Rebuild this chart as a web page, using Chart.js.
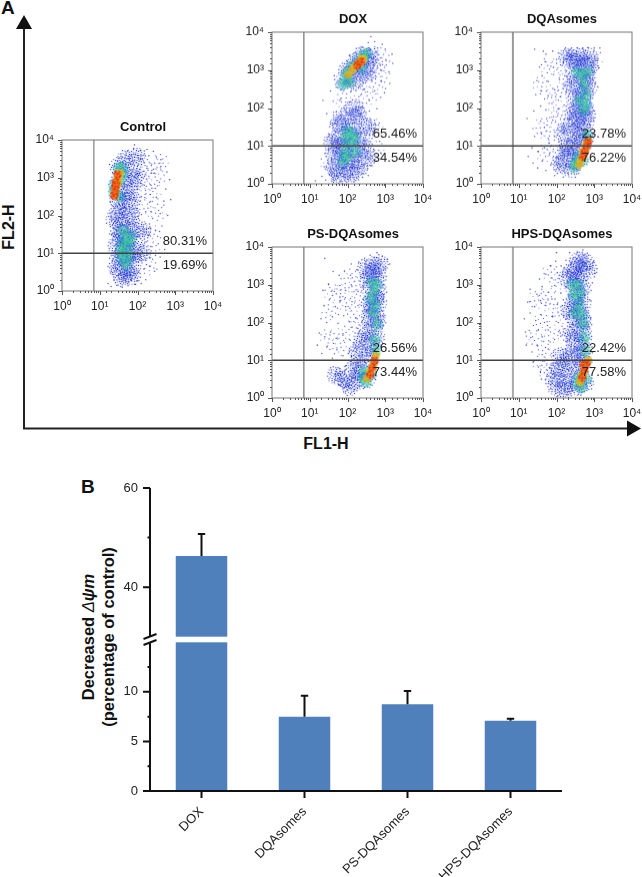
<!DOCTYPE html>
<html><head><meta charset="utf-8">
<style>
html,body{margin:0;padding:0;background:#fff;width:642px;height:877px;overflow:hidden;font-family:"Liberation Sans",Arial,sans-serif;color:#111}
canvas{position:absolute;display:block}
.t{position:absolute;white-space:nowrap;font-weight:bold;line-height:1}
svg{position:absolute;left:0;top:0}
</style>
<script src="https://cdn.jsdelivr.net/npm/chart.js@4"></script>
</head><body>
<svg width="642" height="877">
<path d="M24 429V28" stroke="#222" stroke-width="2" fill="none"/>
<path d="M24 15L32 29H16Z" fill="#111"/>
<path d="M23 428.5H628" stroke="#222" stroke-width="2" fill="none"/>
<path d="M641 428.5L627 420.5V436.5Z" fill="#111"/>
</svg>
<div class="t" style="left:1px;top:-2px;font-size:19px">A</div>
<div class="t" style="left:81px;top:477px;font-size:19px">B</div>
<div class="t" style="left:9px;top:227px;font-size:16px;transform:translate(-50%,-50%) rotate(-90deg)">FL2-H</div>
<div class="t" style="left:326px;top:444px;font-size:16px;transform:translate(-50%,-50%)">FL1-H</div>
<div class="t" style="left:88px;top:637px;font-size:16.5px;transform:translate(-50%,-50%) rotate(-90deg)">Decreased <span style="font-weight:normal;font-style:italic">Δ</span><i>ψm</i></div>
<div class="t" style="left:108px;top:637px;font-size:16.5px;transform:translate(-50%,-50%) rotate(-90deg)">(percentage of control)</div>
<script>
// ---- Flow cytometry panels (positions read as decades, log10 of FL1-H, FL2-H) ----
const decadeLabels=['10⁰','10¹','10²','10³','10⁴'];
const gateFL1=7, gateFL2=10;

const controlHaze=[[1.5,3.3],[1.55,3],[1.5,2.7],[1.5,2.4],[1.5,2.1],[1.55,1.8],[1.6,1.5],[1.65,1.2],[1.65,.9],[1.65,.6],[1.6,.35],[1.85,3.2],[1.85,2.8],[1.85,2.4],[1.85,2],[1.9,1.6],[1.95,1.2],[1.9,.8],[1.85,.4],[2.15,1.6],[2.1,1],[1.5,1.5],[1.5,.9],[1.7,3.5],[2,3.55],[1.7,2.6],[1.7,2.2],[1.75,1.7],[1.75,1.35],[1.8,.95],[1.75,.5],[1.45,.6],[2,3],[1.45,1.2],[1.4,1.9]];
const controlFringe=[[2.2,3.2],[2.4,3.3],[2.4,2.6],[2.3,.65],[2.2,2.7],[2.2,2.2],[2.5,3],[2.55,2.1],[2.4,1.5],[2.35,1.1],[2.6,3.4]];
const controlDots=[[1.22,.2],[1.3,.12],[1.38,.28],[1.45,.15],[1.52,.33],[1.6,.1],[1.68,.24],[1.75,.14],[1.82,.3],[1.92,.18],[2,.27],[2.1,.2],[2.22,.3],[1.31,.52],[1.42,.6],[1.55,.48],[1.72,.55],[1.88,.62],[2.03,.5],[2.17,.58],[2.32,.66],[2.45,.52],[1.36,.85],[1.48,.92],[1.95,.88],[2.1,.8],[2.25,.95],[2.4,.84],[2.6,.9],[1.38,1.2],[1.9,1.25],[2.05,1.15],[2.2,1.3],[2.35,1.18],[2.55,1.25],[2.72,1.1],[1.32,1.5],[1.45,1.62],[2,1.55],[2.15,1.7],[2.3,1.48],[2.48,1.6],[2.65,1.72],[1.3,1.95],[1.42,2.05],[1.62,1.95],[1.78,2.1],[2.02,1.98],[2.22,2.1],[2.4,1.92],[2.6,2.05],[2.8,2],[1.28,2.35],[1.6,2.3],[1.75,2.45],[1.95,2.38],[2.1,2.5],[2.32,2.35],[2.5,2.48],[2.7,2.38],[2.88,2.42],[1.66,2.75],[1.82,2.85],[2,2.7],[2.18,2.8],[2.38,2.72],[2.58,2.88],[2.75,2.7],[2.85,2.95],[1.7,3.15],[1.88,3.22],[2.05,3.1],[2.25,3.25],[2.45,3.12],[2.62,3.3],[2.78,3.15],[1.6,3.55],[1.78,3.5],[1.95,3.62],[2.12,3.5],[2.3,3.58],[2.5,3.55],[2.62,3.48],[1.75,3.72],[1.9,3.78],[2.08,3.72],[2.25,3.75],[2.42,3.7],[1.92,3.87],[1.4,2.2],[1.55,2.15],[1.7,1.75],[1.82,1.6],[1.4,1.05],[1.5,.72],[1.8,.75],[1.72,1.05],[1.85,1.1],[1.62,2.55],[1.7,2.95],[1.55,3.4],[1.7,3.35]];
const controlGreen=[[1.5,3.25],[1.58,3.27],[1.6,3.1],[1.55,2.95],[1.38,2.82],[1.37,2.6],[1.52,2.5],[1.62,1.6],[1.68,1.4],[1.6,1.25],[1.72,1.15],[1.65,1],[1.75,.9],[1.6,.85],[1.7,.7],[1.82,1.45],[1.55,1.05],[1.78,1.28]];
const controlWarm=[[1.53,3.12],[1.5,3.02],[1.46,2.95],[1.48,2.84],[1.43,2.72]];
const controlCore=[[1.47,3.08],[1.43,2.88],[1.41,2.78],[1.4,2.62],[1.39,2.52]];

const doxHaze=[[1.9,2.7],[2,3],[2.2,3.2],[2.4,3.4],[2.6,3.35],[2.5,2.9],[2.2,2.7],[1.75,1.6],[2,1.8],[2.3,1.8],[1.75,1.2],[2.05,1.25],[2.35,1.25],[1.65,.8],[1.95,.8],[2.25,.8],[1.65,.4],[1.95,.4],[2.3,.4],[2.55,1.5],[2.3,3.05],[2.1,2.9],[2.55,3.1],[1.6,1.1],[1.85,1.55],[2.15,1.5],[2.1,1.05],[1.8,.95],[1.8,.6],[2.1,.55],[2.1,.25],[1.75,.2],[2.45,.95],[2.5,.65],[2.2,2]];
const doxFringe=[[2.75,3.4],[2.9,3.3],[2.9,2.95],[2.75,3.05],[1.95,2.3],[1.85,1.95],[2.55,2.3],[2.4,2.6],[2.8,2.6],[2.7,1.5],[2.75,.9],[1.5,.6]];
const doxDots=[[1.15,.08],[1.32,.2],[1.42,.1],[1.55,.3],[1.62,.12],[1.72,.2],[1.82,.08],[1.92,.18],[2.02,.12],[2.12,.25],[2.25,.15],[2.4,.28],[2.55,.22],[1.38,.45],[1.48,.55],[1.58,.65],[1.75,.55],[1.88,.42],[2.15,.6],[2.42,.5],[2.62,.48],[2.78,.6],[1.5,.9],[1.6,1.05],[2.12,.9],[2.45,.92],[2.68,.85],[2.88,.82],[1.5,1.25],[1.68,1.35],[2.45,1.15],[2.65,1.2],[2.85,1.12],[1.6,1.55],[1.85,1.45],[2.2,1.6],[2.42,1.45],[2.6,1.62],[2.82,1.55],[1.45,1.85],[1.7,1.9],[1.9,2],[2.15,1.95],[2.38,2.02],[2.58,1.92],[2.78,1.98],[1.35,2.2],[1.62,2.18],[1.82,2.25],[2.05,2.15],[2.3,2.3],[2.58,2.2],[2.88,2.28],[1.55,2.45],[1.7,2.55],[2.1,2.45],[2.45,2.5],[2.72,2.45],[2.98,2.4],[1.65,2.85],[2.35,2.72],[2.65,2.7],[2.9,2.7],[3.12,2.65],[2.6,2.95],[2.88,3],[3.1,2.95],[3.2,3.18],[2.05,3.38],[2.2,3.45],[2.68,3.2],[3.02,3.25],[3.18,3.42],[2.4,3.6],[2.6,3.55],[2.8,3.58],[3,3.55],[2.55,3.72],[2.72,3.75],[2.92,3.68],[2.62,3.88],[1.8,2.2],[1.7,.95],[1.85,1.1],[2.2,1.05],[2.3,.45],[1.8,.28],[2,.55],[2.35,1.85],[2.1,1.7]];
const doxGreen=[[1.88,2.62],[1.95,2.78],[2,2.95],[2.12,3.08],[2.28,3.22],[2.42,3.38],[2.5,3.42],[2.36,3.05],[2.05,2.7],[2,1.4],[2.12,1.32],[2.2,1.18],[2.05,1.05],[1.92,.85],[1.88,.6],[2,.72],[2.22,.85],[1.95,1.22]];
const doxWarm=[[2.02,2.88],[2.12,3],[2.2,3.1],[2.3,3.18],[2.42,3.28],[2.38,3.3]];
const doxCore=[[2.26,3.12],[2.35,3.22]];

const dqaHaze=[[2.6,3.35],[2.85,3.35],[2.4,3.3],[2.7,3.1],[2.9,3.15],[2.5,2.9],[2.75,2.75],[2.4,2.6],[2.75,2.35],[2.5,2.2],[2.75,2],[2.55,1.75],[2.75,1.6],[2.35,1.5],[2.6,1.25],[2.35,.95],[2.55,.8],[2.2,.65],[2.4,.4],[2.55,3.2],[2.8,2.9],[2.6,2.45],[2.85,2.55],[2.8,1.8],[2.6,2],[2.45,1.9],[2.65,1.5],[2.5,1.1],[2.75,1.2],[2.45,.6],[2.25,.95],[2.1,.5],[2.2,1.35],[2.3,3.35]];
const dqaFringe=[[1.95,1.8],[1.95,.9],[2.1,3.1],[2.1,2.4],[1.8,1.3],[1.9,2.3],[1.8,3.1],[2.25,2.8],[2.1,1.8],[1.6,2.6],[1.6,1.5],[1.7,.8],[3,3.3]];
const dqaDots=[[1.25,.72],[1.38,.55],[1.5,.42],[1.62,.6],[1.72,.35],[1.85,.5],[1.95,.22],[2.08,.38],[2.18,.18],[2.3,.28],[1.35,.95],[1.52,.85],[1.68,.95],[1.82,.8],[2.02,.7],[1.42,1.25],[1.6,1.32],[1.78,1.2],[1.95,1.25],[2.12,1.15],[1.58,1.65],[1.75,1.55],[1.9,1.68],[2.05,1.55],[2.2,1.7],[1.22,1.72],[1.4,1.92],[1.58,2.05],[1.72,1.95],[1.88,2.12],[2.05,1.98],[2.2,2.08],[2.35,1.92],[1.45,2.35],[1.6,2.45],[1.78,2.32],[1.95,2.48],[2.1,2.3],[2.25,2.42],[2.9,2.3],[1.48,2.72],[1.62,2.85],[1.78,2.7],[1.92,2.88],[2.08,2.75],[2.22,2.85],[3.02,2.65],[2.95,2],[1.55,3.08],[1.7,3.22],[1.85,3.1],[2,3.28],[2.15,3.12],[2.28,3.3],[3.1,3.3],[3,2.95],[3.12,3.05],[1.72,3.42],[1.9,3.5],[2.05,3.45],[2.22,3.55],[2.4,3.58],[2.55,3.58],[2.7,3.58],[2.85,3.58],[3,3.58],[3.15,3.58],[1.42,3.55],[2.9,1.55],[2.98,1.72],[2.88,1.25],[1.65,3.5],[2.35,3.15],[2.55,3.15],[2.45,2.2],[2.6,2.6],[2.35,1.75],[2.5,1.45],[2.2,1.35],[2.25,.5],[2.1,.95],[2.42,.68],[2.3,1.12]];
const dqaGreen=[[2.55,2.95],[2.68,2.85],[2.82,2.95],[2.72,2.62],[2.78,2.35],[2.62,2.2],[2.78,2.1],[2.72,1.95],[2.82,1.28],[2.58,.72],[2.52,.55],[2.48,.45],[2.7,.62]];
const dqaWarm=[[2.78,1.05],[2.7,.85],[2.64,.62],[2.6,.5]];
const dqaCore=[[2.84,1.12],[2.8,.98],[2.75,.85],[2.7,.72]];

const psHaze=[[2.7,3.5],[2.85,3.55],[2.55,3.2],[2.8,3.2],[2.6,2.9],[2.8,2.85],[2.6,2.5],[2.8,2.5],[2.6,2.15],[2.8,2.1],[2.5,1.75],[2.75,1.6],[2.25,1.25],[2.55,1.1],[2.15,.75],[2.4,.65],[1.9,.5],[2.2,.45],[2.5,3.45],[2.65,3.25],[2.75,2.65],[2.65,2.3],[2.7,1.9],[2.4,1.5],[2.6,1.35],[2.3,.95],[2.05,.3],[2.5,.5],[1.7,.6]];
const psFringe=[[2.25,3],[2.2,2.2],[2.3,1.9],[2.3,2.7],[1.8,2.8],[1.75,1.35],[2,2.5],[1.95,1.7],[1.55,2.3],[1.5,1.6],[2.05,3.2],[1.6,2.8]];
const psDots=[[1.2,1.4],[1.32,1.18],[1.45,1.35],[1.6,1.05],[1.72,1.28],[1.88,1.12],[2.05,1.22],[1.55,.8],[1.68,.62],[1.8,.78],[1.95,.85],[2.1,.72],[1.65,.42],[1.78,.35],[1.92,.28],[2.05,.35],[2.18,.22],[2.32,.3],[2.42,.25],[1.25,1.72],[1.4,1.62],[1.55,1.75],[1.7,1.58],[1.88,1.7],[2.05,1.55],[2.2,1.72],[2.32,1.5],[1.3,2.1],[1.45,2],[1.6,2.15],[1.75,1.98],[1.9,2.18],[2.05,2.02],[2.22,2.12],[2.38,2],[1.38,2.45],[1.52,2.6],[1.68,2.42],[1.82,2.58],[1.95,2.42],[2.12,2.55],[2.28,2.45],[2.42,2.6],[1.35,2.85],[1.5,3.02],[1.65,2.82],[1.8,2.98],[1.95,2.85],[2.1,3],[2.28,2.82],[2.42,2.95],[1.4,3.7],[1.62,3.35],[1.78,3.25],[1.92,3.35],[2.08,3.25],[2.25,3.4],[2.4,3.3],[2.95,3.2],[3,3.42],[2.1,3.55],[2.3,3.6],[2.45,3.7],[2.6,3.78],[2.78,3.85],[2.92,3.75],[3.05,3.68],[3.12,3.55],[2.92,2.6],[2.95,2.15],[2.92,1.85],[2.82,1.3],[2.62,1.35],[2.45,.95],[2.25,.95],[2.35,1.45],[2.5,2.3],[2.55,2.7],[2.5,3.05],[2.68,3.35]];
const psGreen=[[2.65,3.05],[2.78,3],[2.7,2.8],[2.62,2.62],[2.75,2.45],[2.68,2.25],[2.78,1.95],[2.72,1.55],[2.76,1.28],[2.42,.55],[2.5,.42],[2.62,.62],[2.45,.72]];
const psWarm=[[2.75,1.12],[2.68,.9],[2.6,.72],[2.52,.52]];
const psCore=[[2.72,.98],[2.66,.8],[2.6,.62]];

const hpsHaze=[[2.6,3.65],[2.4,3.35],[2.65,3.3],[2.85,3.4],[2.45,2.95],[2.68,2.9],[2.45,2.5],[2.68,2.5],[2.5,2.1],[2.72,2.05],[2.7,1.7],[2.4,1.7],[2.7,1.3],[2.4,1.2],[2.1,1.1],[2.55,.75],[2.25,.6],[1.95,.55],[2.55,.3],[2.2,.2],[2.55,3.5],[2.75,3.6],[2.55,3.1],[2.3,3.2],[2.55,2.7],[2.35,2.3],[2.6,2.3],[2.6,1.9],[2.5,1.5],[2.55,1.1],[2.7,.95],[2.3,.95],[2.05,.8],[2,.3],[2.35,.4],[2.75,.4]];
const hpsFringe=[[1.6,2],[1.75,2.7],[1.7,1.3],[1.9,1.7],[1.9,2.4],[1.45,2.6],[1.4,1.6],[1.85,3.3],[2.1,3],[1.6,.9],[2.1,2.2],[2.25,1.7],[1.75,.7]];
const hpsDots=[[1.2,1.4],[1.35,1.22],[1.5,1.38],[1.62,1.15],[1.78,1.3],[1.92,1.12],[1.38,.95],[1.52,.82],[1.68,.98],[1.82,.78],[1.98,.92],[1.6,.5],[1.72,.38],[1.85,.25],[1.98,.12],[2.12,.3],[2.28,.08],[2.42,.2],[2.58,.1],[2.05,.4],[1.18,1.75],[1.32,1.6],[1.48,1.78],[1.62,1.62],[1.78,1.8],[1.95,1.55],[2.1,1.72],[2.25,1.5],[1.15,2.1],[1.3,2.25],[1.45,2.05],[1.6,2.2],[1.75,2.02],[1.9,2.15],[2.05,2],[2.2,2.18],[2.32,2],[1.28,2.55],[1.42,2.42],[1.58,2.58],[1.72,2.45],[1.88,2.62],[2.02,2.48],[2.18,2.6],[2.3,2.42],[1.3,2.88],[1.48,2.75],[1.62,2.95],[1.78,2.8],[1.95,2.98],[2.12,2.78],[2.25,2.95],[1.55,3.15],[1.72,3.28],[1.88,3.18],[2.02,3.32],[2.18,3.2],[2.3,3.35],[1.85,3.5],[1.98,3.62],[2.12,3.5],[2.25,3.65],[2.4,3.55],[2.55,3.85],[2.7,3.92],[2.85,3.78],[2.98,3.62],[3.02,3.3],[2.95,3.05],[2.88,2.6],[2.9,2.1],[2,3.85],[2.35,3.85],[2.45,3.72],[2.92,1.55],[2.95,1.2],[2.35,.9],[2.15,.75],[2.3,1.25],[2.5,1.45],[2.45,2.25],[2.55,2.75],[2.6,3.1],[2.4,.45]];
const hpsGreen=[[2.42,3],[2.58,2.98],[2.62,2.75],[2.45,2.72],[2.6,2.45],[2.5,2.25],[2.68,2.2],[2.7,1.95],[2.74,1.6],[2.76,1.25],[2.6,.55],[2.55,.38],[2.78,.5],[2.66,.28]];
const hpsWarm=[[2.84,1],[2.75,.85],[2.68,.62],[2.62,.42]];
const hpsCore=[[2.8,.92],[2.74,.72],[2.68,.55],[2.72,.88]];

const panelTitles=['Control','DOX','DQAsomes','PS-DQAsomes','HPS-DQAsomes'];
const upperPct=['80.31%','65.46%','23.78%','26.56%','22.42%'];
const lowerPct=['19.69%','34.54%','76.22%','73.44%','77.58%'];

// ---- Bar chart values ----
const groups=['DOX','DQAsomes','PS-DQAsomes','HPS-DQAsomes'];
const meanValues=[46.3,7.48,8.76,7.08];
const errorTops=[50.7,9.6,10.1,7.28];
const yTickValues=[0,2.5,5,7.5,10,12.5,40,50,60];
const yLabelled=[0,5,10,40,60];
const breakLow=15, breakHigh=30;

// ---- Stipple marks: each density mark is a fixed speckle texture ----
const speckleWide=[[-9,-2],[-8,3],[-7,-5],[-7,1],[-6,6],[-6,-1],[-5,-7],[-5,3],[-4,-3],[-4,0],[-4,5],[-3,8],[-3,-6],[-3,2],[-2,-9],[-2,-2],[-2,4],[-1,-5],[-1,0],[-1,6],[-1,2],[0,-8],[0,-3],[0,1],[0,4],[0,9],[1,-6],[1,-1],[1,3],[1,7],[2,-4],[2,0],[2,5],[3,-8],[3,-2],[3,2],[4,-5],[4,1],[4,6],[5,-3],[5,3],[6,-6],[6,0],[6,5],[7,-2],[7,3],[8,-4],[9,1]];
const speckleSparse=[[-8,3],[-6,-6],[-5,2],[-3,7],[-3,-3],[-1,-8],[-1,1],[1,5],[2,-4],[3,0],[4,8],[5,-7],[6,3],[8,-1]];
const speckleMid=[[-5,-1],[-4,3],[-4,-3],[-3,0],[-2,-5],[-2,-2],[-2,2],[-1,5],[-1,0],[0,-4],[0,-1],[0,2],[1,-2],[1,4],[2,-5],[2,0],[2,3],[3,-2],[4,1],[4,-3],[5,2]];
const speckleTight=[[-3,-1],[-3,2],[-2,-3],[-2,0],[-1,-2],[-1,1],[-1,3],[0,-3],[0,0],[0,2],[1,-1],[1,1],[2,-3],[2,0],[2,2],[3,-1],[3,1]];
function makeStamp(offsets,colors,size,half,under){
 const s=document.createElement('canvas');s.width=s.height=half*2+3;
 const c=s.getContext('2d'),m=half+1.5;
 if(under){c.fillStyle=under;c.beginPath();c.arc(m,m,half,0,Math.PI*2);c.fill();}
 offsets.forEach((o,i)=>{c.fillStyle=colors[i%colors.length];c.fillRect(m+o[0]-size/2,m+o[1]-size/2,size,size);});
 return s;
}
const stampBlue=makeStamp(speckleWide,['#1f2bd0','#3a48e0','#7a88ee','#1a3ac8'],1.2,10);
const stampPale=makeStamp(speckleSparse,['#3a48e0','#8a96f0','#5a68e8'],1.1,10);
const stampGreen=makeStamp(speckleMid,['#22c08a','#30d0c0','#3a7ae0','#60d060','#20a0c0'],1.4,6,'rgba(50,190,170,.22)');
const stampWarm=makeStamp(speckleTight,['#e8c020','#f09020','#a0d040','#e0a020'],1.5,4,'rgba(225,190,40,.55)');
const stampCore=makeStamp(speckleTight,['#e83a14','#f06a10','#d82010','#f09020'],1.6,4,'rgba(235,80,20,.7)');

// ---- Layout ----
const PLOT_W=151, PLOT_H=151.6, ML=42, MT=20, MR=14, MB=26;
const panels=[
 {left:62,top:139.5,g:'#666',gw:1,h:controlHaze,f:controlFringe,d:controlDots,gr:controlGreen,w:controlWarm,c:controlCore},
 {left:271.5,top:32,g:'#555',gw:1,h:doxHaze,f:doxFringe,d:doxDots,gr:doxGreen,w:doxWarm,c:doxCore},
 {left:480.5,top:32,g:'#999',gw:2,h:dqaHaze,f:dqaFringe,d:dqaDots,gr:dqaGreen,w:dqaWarm,c:dqaCore},
 {left:271.5,top:246.7,g:'#555',gw:1,h:psHaze,f:psFringe,d:psDots,gr:psGreen,w:psWarm,c:psCore},
 {left:480.5,top:246.7,g:'#aaa',gw:2,h:hpsHaze,f:hpsFringe,d:hpsDots,gr:hpsGreen,w:hpsWarm,c:hpsCore}
];
const toXY=a=>a.map(p=>({x:10**p[0],y:10**p[1]}));

const flowOverlay={id:'flowOverlay',
 afterLayout(ch){const a=ch.chartArea;ch.titleBlock.left=a.left+11;ch.titleBlock.right=a.right;},
 afterDatasetsDraw(ch,_a,o){
  const c=ch.ctx,a=ch.chartArea,xs=ch.scales.x,ys=ch.scales.y;
  c.save();
  c.strokeStyle='#777';c.lineWidth=1;
  c.strokeRect(a.left,a.top,a.right-a.left,a.bottom-a.top);
  c.strokeStyle='#555';
  xs.ticks.forEach(t=>{const p=Math.round(xs.getPixelForValue(t.value))+.5;const mj=Math.abs(Math.log10(t.value)%1)<1e-9;
    c.beginPath();c.moveTo(p,a.bottom);c.lineTo(p,a.bottom+(mj?4:2));c.stroke();});
  ys.ticks.forEach(t=>{const p=Math.round(ys.getPixelForValue(t.value))+.5;const mj=Math.abs(Math.log10(t.value)%1)<1e-9;
    c.beginPath();c.moveTo(a.left,p);c.lineTo(a.left-(mj?4:2),p);c.stroke();});
  c.fillStyle='#222';c.font='13px "Liberation Sans"';c.textAlign='right';c.textBaseline='middle';
  const tx=xs.getPixelForValue(10**3.84),ty=ys.getPixelForValue(gateFL2);
  c.fillText(o.above,tx,ty-11.5);c.fillText(o.below,tx,ty+12);
  c.restore();
 }};

function pointSet(data,stamp,r,spin){return {data:toXY(data),backgroundColor:'#000',borderWidth:0,pointStyle:stamp,pointRadius:r,pointHoverRadius:r,showLine:false,rotation:spin?(ctx=>ctx.dataIndex*73):0};}

panels.forEach((p,i)=>{
 const cv=document.createElement('canvas');
 const W=ML+PLOT_W+MR,H=MT+PLOT_H+MB;
 cv.width=W;cv.height=H;cv.style.left=(p.left-ML)+'px';cv.style.top=(p.top-MT)+'px';cv.style.width=W+'px';cv.style.height=H+'px';
 document.body.appendChild(cv);
 new Chart(cv,{type:'scatter',plugins:[flowOverlay],data:{datasets:[
   {data:[{x:1,y:gateFL2},{x:10000,y:gateFL2}],showLine:true,borderColor:'#444',borderWidth:1.5,pointRadius:0},
   {data:[{x:gateFL1,y:1},{x:gateFL1,y:10000}],showLine:true,borderColor:p.g,borderWidth:p.gw,pointRadius:0},
   pointSet(p.c,stampCore,4,true),
   pointSet(p.w,stampWarm,4,true),
   pointSet(p.gr,stampGreen,6,true),
   {data:toXY(p.d),backgroundColor:'rgba(35,45,205,.7)',borderWidth:0,pointRadius:.8,pointHoverRadius:.8,showLine:false},
   pointSet(p.h,stampBlue,10,true),
   pointSet(p.f,stampPale,10,true)
 ]},options:{responsive:false,animation:false,devicePixelRatio:1,
  layout:{padding:{right:MR}},
  plugins:{legend:{display:false},tooltip:{enabled:false},
   title:{display:true,text:panelTitles[i],color:'#111',font:{family:'"Liberation Sans"',size:13,weight:'bold',lineHeight:1.2},padding:{top:0,bottom:4.4}},
   flowOverlay:{above:upperPct[i],below:lowerPct[i]}},
  scales:{
   x:{type:'logarithmic',min:1,max:10000,grid:{display:false,drawTicks:false},border:{display:false},
    afterFit(s){s.height=MB;s.paddingLeft=0;s.paddingRight=0;},
    ticks:{autoSkip:false,maxRotation:0,minRotation:0,padding:8,color:'#222',font:{family:'"Liberation Sans"',size:12},
     callback:v=>{const e=Math.log10(v);return Math.abs(e-Math.round(e))<1e-9?decadeLabels[Math.round(e)]:'';}}},
   y:{type:'logarithmic',min:1,max:10000,grid:{display:false,drawTicks:false},border:{display:false},
    afterFit(s){s.width=ML;s.paddingTop=0;s.paddingBottom=0;},
    ticks:{autoSkip:false,padding:8,color:'#222',font:{family:'"Liberation Sans"',size:12},
     callback:v=>{const e=Math.log10(v);return Math.abs(e-Math.round(e))<1e-9?decadeLabels[Math.round(e)]:'';}}}
  }}});
});

// ---- Broken y axis: a linear scale with a cut between breakLow and breakHigh ----
class BrokenLinear extends Chart.LinearScale{
 getPixelForValue(v){
  const h=this.bottom-this.top,seg=(h-5.6)/2;
  if(v<=breakLow) return this.bottom-v/breakLow*seg;
  if(v>=breakHigh) return this.top+(this.max-v)/(this.max-breakHigh)*seg;
  return this.bottom-seg-(v-breakLow)/(breakHigh-breakLow)*5.6;
 }
}
BrokenLinear.id='brokenLinear';
BrokenLinear.defaults=Chart.LinearScale.defaults;
Chart.register(BrokenLinear);

const barOverlay={id:'barOverlay',
 afterDatasetsDraw(ch){
  const c=ch.ctx,a=ch.chartArea,xs=ch.scales.x,ys=ch.scales.y;
  const lo=ys.getPixelForValue(breakLow),hi=ys.getPixelForValue(breakHigh);
  c.save();
  c.fillStyle='#fff';c.fillRect(a.left,hi,a.right-a.left,lo-hi);
  c.strokeStyle='#111';c.lineWidth=2;c.lineCap='butt';
  c.beginPath();
  c.moveTo(a.left,ys.getPixelForValue(0));c.lineTo(a.left,lo+1);
  c.moveTo(a.left,hi-1);c.lineTo(a.left,ys.getPixelForValue(60));
  c.moveTo(a.left-7,ys.getPixelForValue(0));c.lineTo(a.right,ys.getPixelForValue(0));
  yTickValues.forEach(v=>{const p=ys.getPixelForValue(v);c.moveTo(a.left-(yLabelled.includes(v)?7:2.5),p);c.lineTo(a.left,p);});
  xs.ticks.forEach((t,i)=>{const p=xs.getPixelForTick(i);c.moveTo(p,a.bottom);c.lineTo(p,a.bottom+7);});
  c.moveTo(a.left-6.5,lo+2.7);c.lineTo(a.left+6.5,lo-2.3);
  c.moveTo(a.left-6.5,hi+2.3);c.lineTo(a.left+6.5,hi-2.7);
  c.stroke();
  c.beginPath();
  errorTops.forEach((e,i)=>{const x=xs.getPixelForTick(i),t=ys.getPixelForValue(e),b=ys.getPixelForValue(meanValues[i]);
    c.moveTo(x,b);c.lineTo(x,t);c.moveTo(x-3.7,t);c.lineTo(x+3.7,t);});
  c.stroke();
  c.restore();
 }};

const barCv=document.createElement('canvas');
barCv.width=582;barCv.height=407;barCv.style.left='60px';barCv.style.top='470px';barCv.style.width='582px';barCv.style.height='407px';
document.body.appendChild(barCv);
new Chart(barCv,{type:'bar',plugins:[barOverlay],data:{labels:groups,datasets:[{data:meanValues,backgroundColor:'#4f80bc',borderWidth:0,barPercentage:.5,categoryPercentage:1}]},
 options:{responsive:false,animation:false,devicePixelRatio:1,layout:{padding:{top:18,right:80}},
  plugins:{legend:{display:false},tooltip:{enabled:false}},
  scales:{
   x:{grid:{display:false,drawTicks:false},border:{display:false},
    afterFit(s){s.height=86;s.paddingLeft=0;s.paddingRight=0;},
    ticks:{autoSkip:false,minRotation:45,maxRotation:45,padding:13,color:'#222',font:{family:'"Liberation Sans"',size:13}}},
   y:{type:'brokenLinear',min:0,max:60,grid:{display:false,drawTicks:false},border:{display:false},
    afterFit(s){s.width=90;s.paddingTop=0;s.paddingBottom=0;},
    afterBuildTicks(s){s.ticks=yTickValues.map(value=>({value}));},
    ticks:{autoSkip:false,padding:12,color:'#222',font:{family:'"Liberation Sans"',size:13},
     callback:v=>yLabelled.includes(v)?String(v):''}}
  }}});
</script>
</body></html>
